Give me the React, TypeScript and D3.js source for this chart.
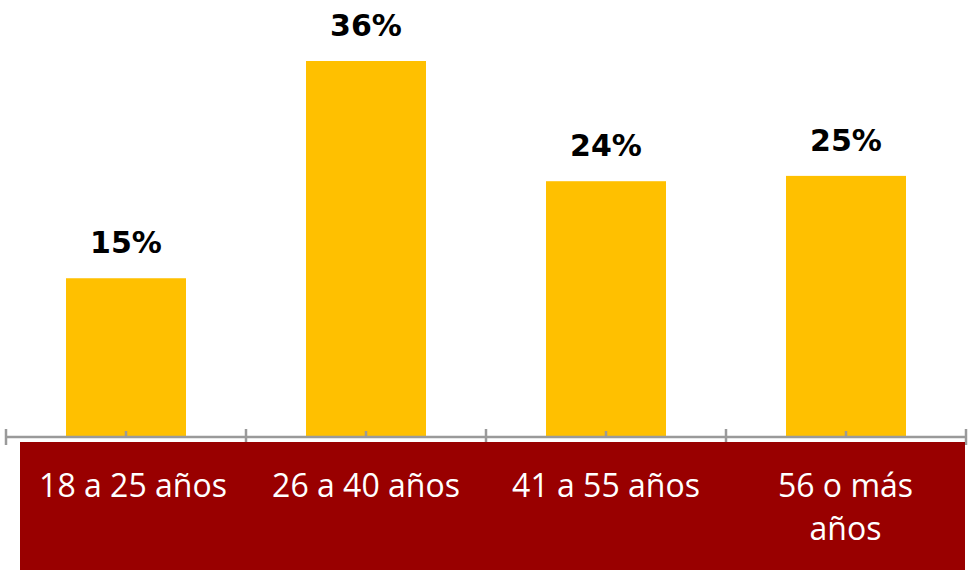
import * as d3 from "d3";

// data
const categories = ["18 a 25 años", "26 a 40 años", "41 a 55 años", "56 o más años"];
const categoryLines = [["18 a 25 años"], ["26 a 40 años"], ["41 a 55 años"], ["56 o más", "años"]];
const values = [15.2, 36.0, 24.49, 25.0];

const W = 975;
const H = 570;
const BASE_Y = 437;
const PANEL_X0 = 20;
const PANEL_X1 = 965;

export default function App() {
  const x = d3.scaleBand<string>().domain(categories).range([6, 966]).paddingInner(0.5).paddingOuter(0.25);
  const y = d3.scaleLinear().domain([0, 36]).range([BASE_Y, 61]);
  const fmt = (v: number) => `${d3.format(".0f")(v)}%`;
  const step = x.step();
  const edges = d3.range(categories.length + 1).map((i) => 6 + i * step);

  return (
    <svg
      width={W}
      height={H}
      style={{ position: "absolute", left: 0, top: 0, background: "#fff" }}
    >
      {/* bars */}
      {categories.map((c, i) => (
        <rect
          key={c}
          x={x(c)}
          y={y(values[i])}
          width={x.bandwidth()}
          height={BASE_Y - y(values[i])}
          fill="#FFC000"
        />
      ))}
      {/* value labels */}
      {categories.map((c, i) => (
        <text
          key={c}
          x={(x(c) ?? 0) + x.bandwidth() / 2}
          y={y(values[i]) - 25}
          textAnchor="middle"
          fontFamily="'DejaVu Sans', sans-serif"
          fontWeight="bold"
          fontSize={30}
          fill="#000"
        >
          {fmt(values[i])}
        </text>
      ))}
      {/* axis */}
      <line x1={6} x2={966} y1={BASE_Y} y2={BASE_Y} stroke="#9a9a9a" strokeWidth={2.5} />
      {edges.map((e) => (
        <line key={"e" + e} x1={e} x2={e} y1={429} y2={445} stroke="#9a9a9a" strokeWidth={2.5} />
      ))}
      {categories.map((c) => {
        const cx = (x(c) ?? 0) + x.bandwidth() / 2;
        return <line key={"m" + c} x1={cx} x2={cx} y1={431} y2={BASE_Y} stroke="#9a9a9a" strokeWidth={2.5} />;
      })}
      {/* category panel */}
      <rect x={PANEL_X0} y={442} width={PANEL_X1 - PANEL_X0} height={128} fill="#990000" />
      {categories.map((c, i) => {
        const left = Math.max(edges[i], PANEL_X0);
        const right = Math.min(edges[i + 1], PANEL_X1);
        const cx = (left + right) / 2;
        const lines = categoryLines[i];
        const y0 = 497;
        return (
          <text
            key={c}
            x={cx}
            y={y0}
            textAnchor="middle"
            fontFamily="'Open Sans', sans-serif"
            fontSize={32}
            fill="#fff"
          >
            {lines.map((l, j) => (
              <tspan key={j} x={cx} y={y0 + j * 43}>
                {l}
              </tspan>
            ))}
          </text>
        );
      })}
    </svg>
  );
}
